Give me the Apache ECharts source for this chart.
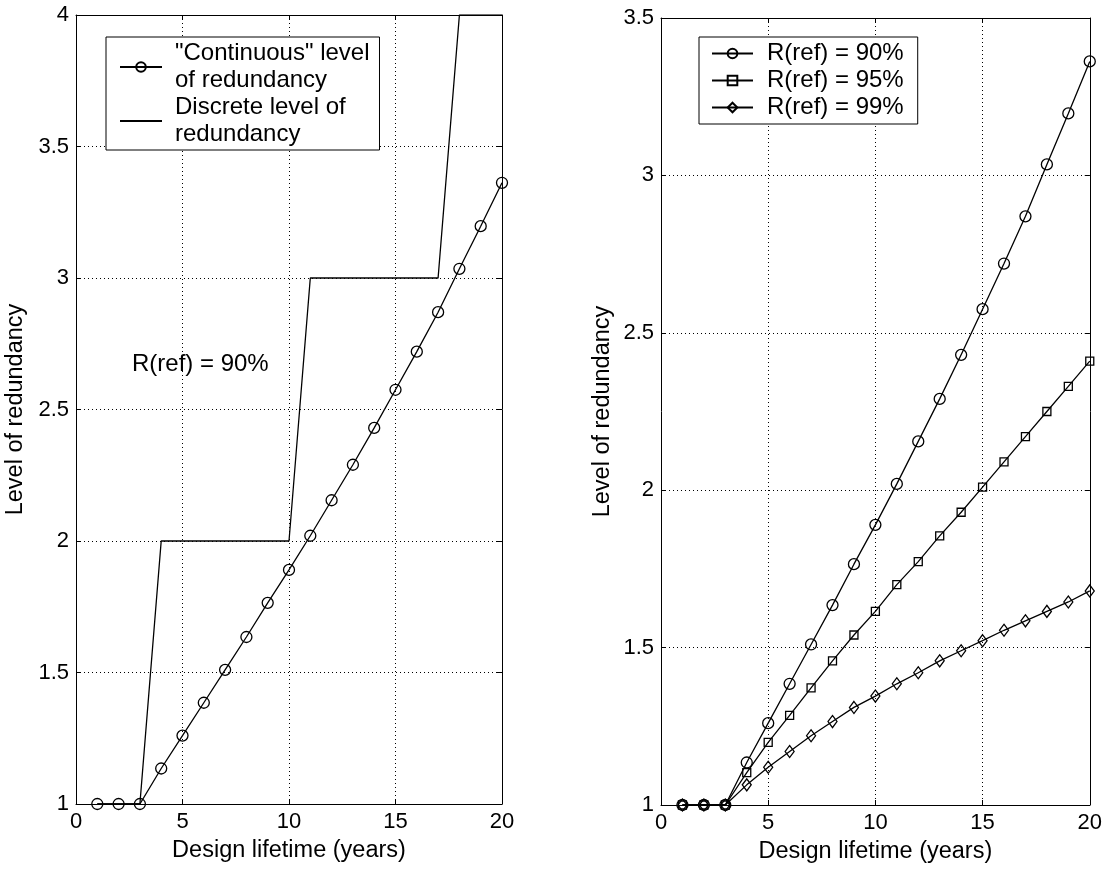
<!DOCTYPE html>
<html>
<head>
<meta charset="utf-8">
<script src="https://cdn.jsdelivr.net/npm/echarts@6/dist/echarts.min.js"></script>
<style>
html,body{margin:0;padding:0;background:#fff;}
#chart{width:1105px;height:869px;}
</style>
</head>
<body>
<div id="chart"></div>
<script>
// ---- data ----
const years = [1,2,3,4,5,6,7,8,9,10,11,12,13,14,15,16,17,18,19,20];
const continuous90 = [1,1,1,1.135,1.26,1.385,1.51,1.635,1.765,1.89,2.02,2.155,2.29,2.43,2.575,2.72,2.87,3.035,3.197,3.362];
const discrete90 = [1,1,1,2,2,2,2,2,2,2,3,3,3,3,3,3,3,4,4,4];
const ref95 = [1,1,1,1.103,1.199,1.285,1.372,1.458,1.54,1.615,1.70,1.773,1.855,1.93,2.01,2.09,2.17,2.25,2.33,2.41];
const ref99 = [1,1,1,1.064,1.12,1.17,1.22,1.265,1.31,1.346,1.385,1.42,1.458,1.49,1.522,1.555,1.585,1.615,1.645,1.68];
const legendLeft = ['"Continuous" level\nof redundancy', 'Discrete level of\nredundancy'];
const legendRight = ['R(ref) = 90%', 'R(ref) = 95%', 'R(ref) = 99%'];
const xName = 'Design lifetime (years)';
const yName = 'Level of redundancy';
const annotation = 'R(ref) = 90%';

const pairs = (ys) => years.map((x, i) => [x, ys[i]]);
const FONT = '"Liberation Sans", Arial, Helvetica, sans-serif';

const chart = echarts.init(document.getElementById('chart'));

function mainX(gridIndex) {
  return {
    type: 'value', gridIndex, min: 0, max: 20, interval: 5,
    name: xName, nameLocation: 'middle', nameGap: 35,
    nameTextStyle: {fontFamily: FONT, fontSize: 23.5, color: '#000'},
    axisLine: {show: true, onZero: false, lineStyle: {color: '#000', width: 1}},
    axisTick: {show: true, inside: true, length: 5, lineStyle: {color: '#000'}},
    axisLabel: {fontFamily: FONT, fontSize: 22, color: '#000', margin: 7},
    splitLine: {show: true, lineStyle: {color: '#000', width: 1, type: [1, 3]}}
  };
}
function topX(gridIndex) {
  return {
    type: 'value', gridIndex, position: 'top', min: 0, max: 20, interval: 5,
    axisLine: {show: true, onZero: false, lineStyle: {color: '#000', width: 1}},
    axisTick: {show: true, inside: true, length: 5, lineStyle: {color: '#000'}},
    axisLabel: {show: false}, splitLine: {show: false}
  };
}
function mainY(gridIndex, max, gap) {
  return {
    type: 'value', gridIndex, min: 1, max, interval: 0.5,
    name: yName, nameLocation: 'middle', nameGap: gap,
    nameTextStyle: {fontFamily: FONT, fontSize: 23.5, color: '#000'},
    axisLine: {show: true, onZero: false, lineStyle: {color: '#000', width: 1}},
    axisTick: {show: true, inside: true, length: 5, lineStyle: {color: '#000'}},
    axisLabel: {fontFamily: FONT, fontSize: 22, color: '#000', margin: 7},
    splitLine: {show: true, lineStyle: {color: '#000', width: 1, type: [1, 3]}}
  };
}
function rightY(gridIndex, max) {
  return {
    type: 'value', gridIndex, position: 'right', min: 1, max, interval: 0.5,
    axisLine: {show: true, onZero: false, lineStyle: {color: '#000', width: 1}},
    axisTick: {show: true, inside: true, length: 5, lineStyle: {color: '#000'}},
    axisLabel: {show: false}, splitLine: {show: false}
  };
}

const markerStyle = {color: 'rgba(0,0,0,0)', borderColor: '#000', borderWidth: 1.3};
const lineStyle = {color: '#000', width: 1.3};

const option = {
  backgroundColor: '#fff',
  animation: false,
  grid: [
    {left: 76, top: 15, width: 426, height: 789},
    {left: 661, top: 18, width: 429, height: 787}
  ],
  xAxis: [mainX(0), topX(0), mainX(1), topX(1)],
  yAxis: [mainY(0, 4, 48), rightY(0, 4), mainY(1, 3.5, 46), rightY(1, 3.5)],
  legend: [
    {
      data: [
        {name: legendLeft[0]},
        {name: legendLeft[1], itemStyle: {color: 'rgba(0,0,0,0)', borderWidth: 0}}
      ],
      orient: 'vertical', left: 106, top: 37,
      padding: [3, 10, 2, 13], itemGap: 0, itemWidth: 42, itemHeight: 12,
      borderColor: '#000', borderWidth: 1, backgroundColor: '#fff',
      textStyle: {fontFamily: FONT, fontSize: 24, color: '#000', lineHeight: 27, padding: [0, 0, 0, 8]},
      selectedMode: false
    },
    {
      data: legendRight, orient: 'vertical', left: 699, top: 37,
      padding: [3, 14, 3, 12], itemGap: 0, itemWidth: 41, itemHeight: 12,
      borderColor: '#000', borderWidth: 1, backgroundColor: '#fff',
      textStyle: {fontFamily: FONT, fontSize: 24, color: '#000', lineHeight: 27, padding: [0, 0, 0, 9]},
      selectedMode: false
    }
  ],
  graphic: [
    {type: 'text', x: 132, y: 364, style: {text: annotation, fontFamily: FONT, fontSize: 24, fill: '#000', verticalAlign: 'middle'}}
  ],
  series: [
    {
      name: legendLeft[0], type: 'line', xAxisIndex: 0, yAxisIndex: 0,
      data: pairs(continuous90), symbol: 'circle', symbolSize: 11, clip: false,
      lineStyle, itemStyle: markerStyle, z: 3
    },
    {
      name: legendLeft[1], type: 'line', xAxisIndex: 0, yAxisIndex: 0,
      data: pairs(discrete90), symbol: 'none', clip: true,
      lineStyle, itemStyle: {color: '#000'}, z: 2
    },
    {
      name: legendRight[0], type: 'line', xAxisIndex: 2, yAxisIndex: 2,
      data: pairs(continuous90), symbol: 'circle', symbolSize: 11, clip: false,
      lineStyle, itemStyle: markerStyle
    },
    {
      name: legendRight[1], type: 'line', xAxisIndex: 2, yAxisIndex: 2,
      data: pairs(ref95), symbol: 'rect', symbolSize: 8, clip: false,
      lineStyle, itemStyle: markerStyle
    },
    {
      name: legendRight[2], type: 'line', xAxisIndex: 2, yAxisIndex: 2,
      data: pairs(ref99), symbol: 'diamond', symbolSize: [9, 12], clip: false,
      lineStyle, itemStyle: markerStyle
    }
  ]
};
chart.setOption(option);
</script>
</body>
</html>
